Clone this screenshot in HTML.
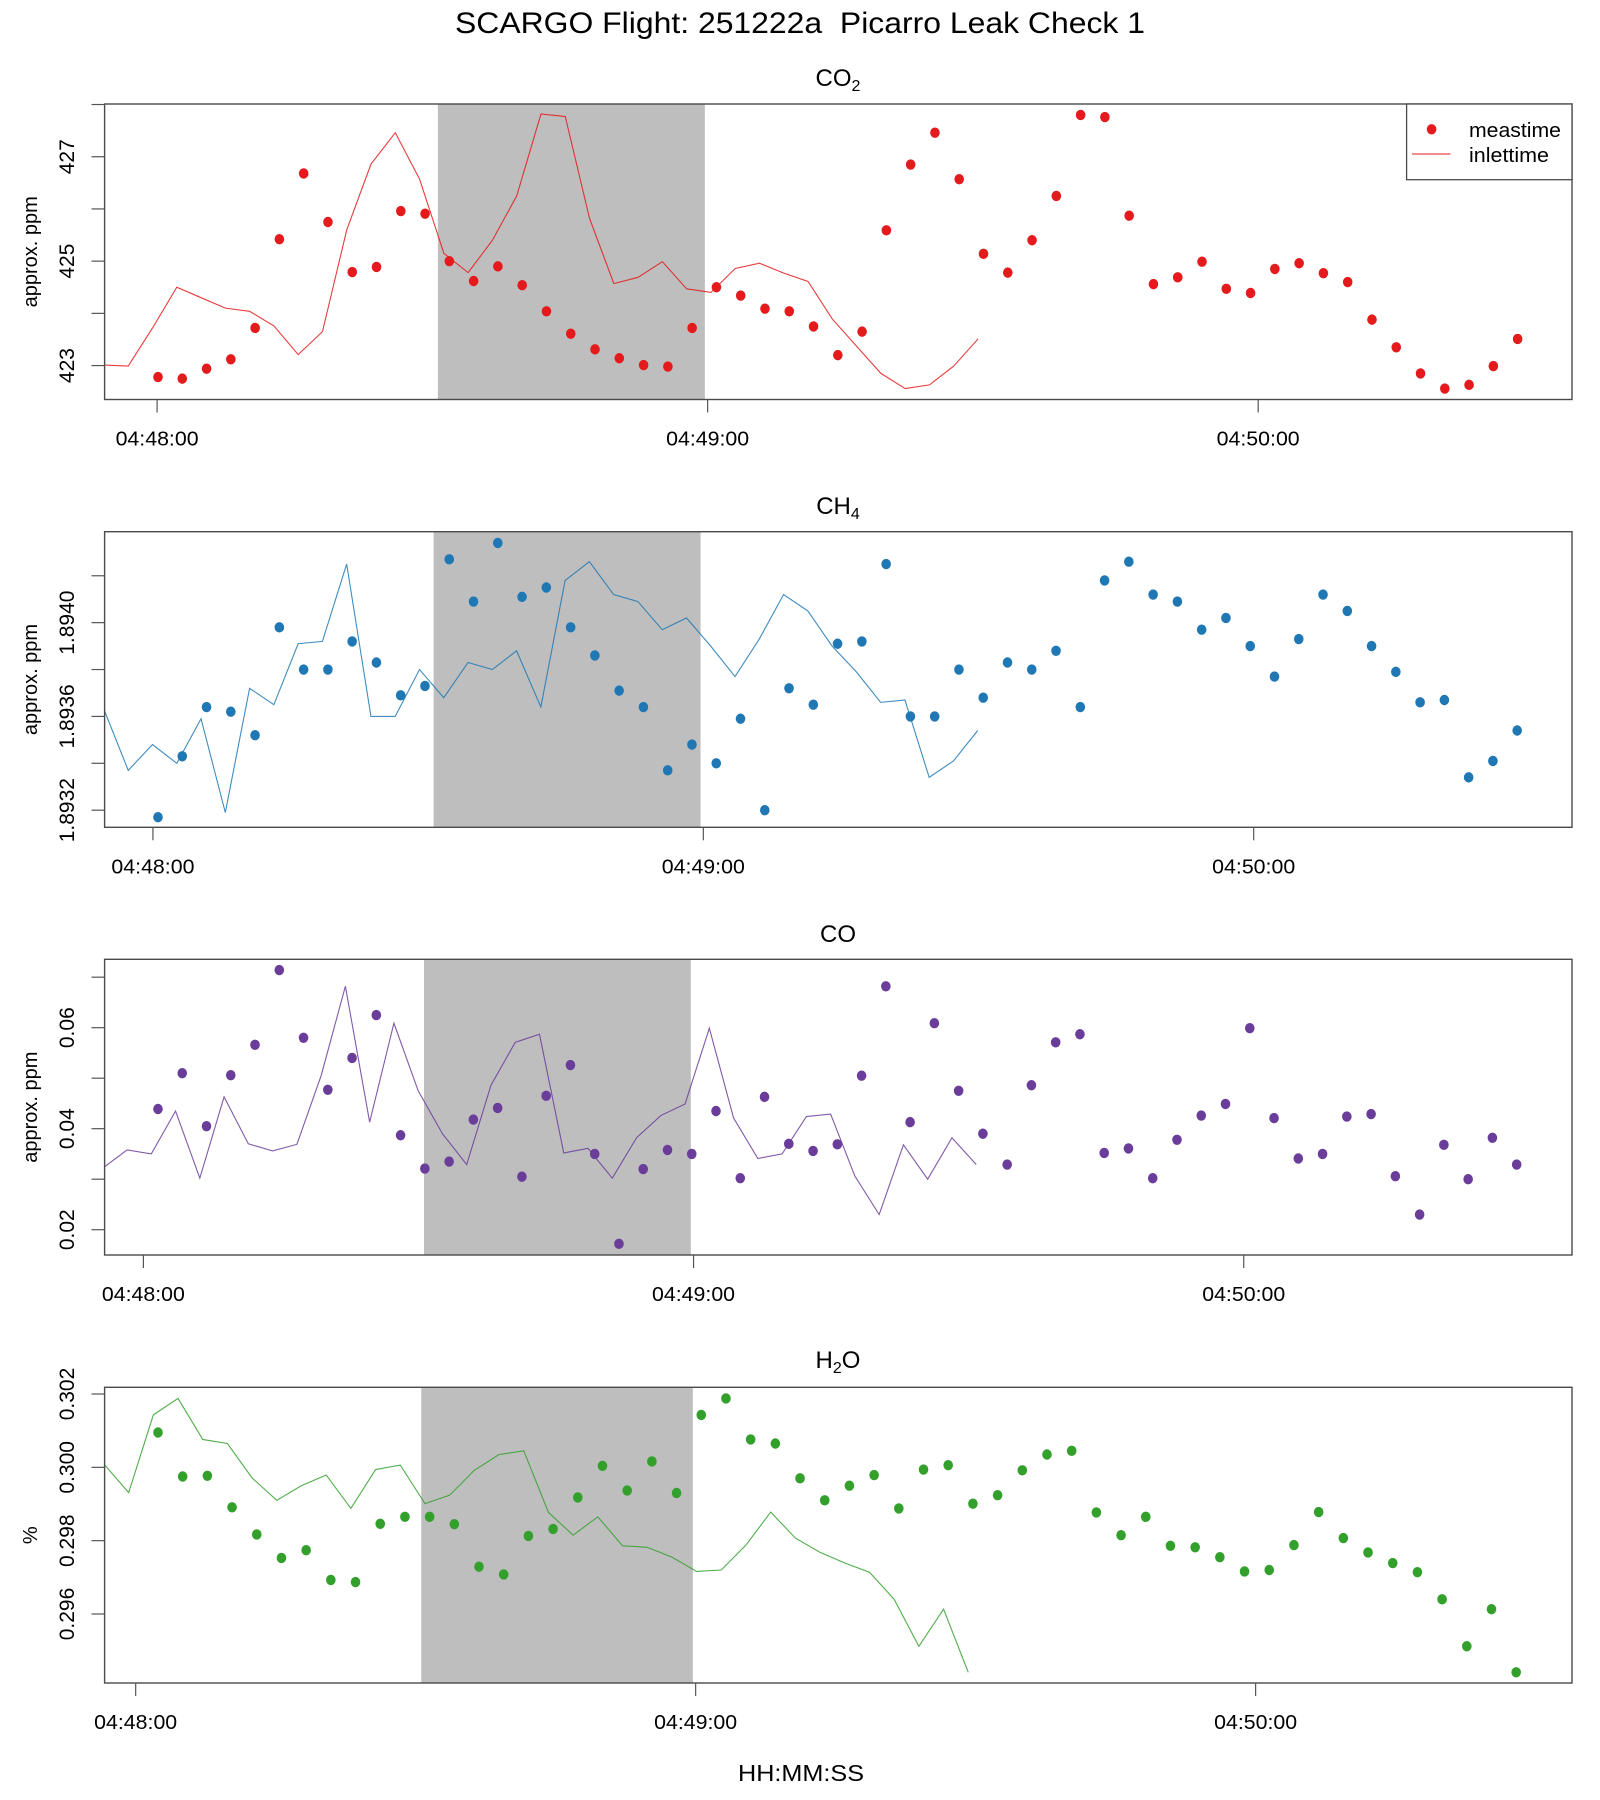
<!DOCTYPE html>
<html><head><meta charset="utf-8"><title>SCARGO Flight 251222a Picarro Leak Check 1</title>
<style>
html,body{margin:0;padding:0;background:#fff;}
svg{display:block;font-family:"Liberation Sans",Arial,sans-serif;}
</style></head>
<body>
<svg id="chart" width="1600" height="1800" viewBox="0 0 1600 1800" xmlns="http://www.w3.org/2000/svg">
<rect x="0" y="0" width="1600" height="1800" fill="#fff"/>
<text x="800" y="33" text-anchor="middle" font-size="30" textLength="690" lengthAdjust="spacingAndGlyphs" fill="#000" xml:space="preserve">SCARGO Flight: 251222a  Picarro Leak Check 1</text>
<text x="801" y="1781" text-anchor="middle" font-size="23" textLength="126" lengthAdjust="spacingAndGlyphs" fill="#000">HH:MM:SS</text>
</svg>
<script>
// ---- shared data ----
const sampleStep = 2.646;
const xTickTimes = [0, 60, 120];
const xTickLabels = ["04:48:00", "04:49:00", "04:50:00"];
const shadeStart = 30.6;
const shadeEnd = 59.7;

// ---- CO2 ----
const co2Meas = [422.78,422.75,422.94,423.12,423.72,425.42,426.68,425.75,424.79,424.89,425.96,425.91,425.00,424.62,424.90,424.54,424.04,423.61,423.31,423.14,423.01,422.98,423.72,424.50,424.34,424.09,424.04,423.75,423.20,423.65,425.59,426.85,427.46,426.57,425.14,424.78,425.40,426.25,427.80,427.76,425.87,424.56,424.69,424.99,424.47,424.39,424.85,424.96,424.77,424.60,423.88,423.35,422.85,422.56,422.63,422.99,423.51];
const co2Inlet = [423.01,422.99,423.72,424.50,424.30,424.10,424.04,423.76,423.21,423.65,425.60,426.86,427.46,426.57,425.15,424.78,425.40,426.25,427.82,427.77,425.82,424.57,424.69,424.99,424.47,424.40,424.86,424.96,424.77,424.61,423.89,423.37,422.85,422.56,422.63,422.99,423.51];
const co2YTicks = [423,424,425,426,427,428];
const co2YLabels = ["423","","425","","427",""];

// ---- CH4 ----
const ch4Meas = [1.89317,1.89343,1.89364,1.89362,1.89352,1.89398,1.89380,1.89380,1.89392,1.89383,1.89369,1.89373,1.89427,1.89409,1.89434,1.89411,1.89415,1.89398,1.89386,1.89371,1.89364,1.89337,1.89348,1.89340,1.89359,1.89320,1.89372,1.89365,1.89391,1.89392,1.89425,1.89360,1.89360,1.89380,1.89368,1.89383,1.89380,1.89388,1.89364,1.89418,1.89426,1.89412,1.89409,1.89397,1.89402,1.89390,1.89377,1.89393,1.89412,1.89405,1.89390,1.89379,1.89366,1.89367,1.89334,1.89341,1.89354];
const ch4Inlet = [1.89363,1.89337,1.89348,1.89340,1.89359,1.89319,1.89372,1.89365,1.89391,1.89392,1.89425,1.89360,1.89360,1.89380,1.89368,1.89383,1.89380,1.89388,1.89364,1.89418,1.89426,1.89412,1.89409,1.89397,1.89402,1.89390,1.89377,1.89393,1.89412,1.89405,1.89390,1.89379,1.89366,1.89367,1.89334,1.89341,1.89354];
const ch4YTicks = [1.8932,1.8934,1.8936,1.8938,1.8940,1.8942];
const ch4YLabels = ["1.8932","","1.8936","","1.8940",""];

// ---- CO ----
const coMeas = [0.0439,0.0510,0.0405,0.0506,0.0566,0.0714,0.0580,0.0477,0.0540,0.0625,0.0387,0.0321,0.0335,0.0418,0.0441,0.0305,0.0465,0.0526,0.0350,0.0172,0.0320,0.0358,0.0350,0.0435,0.0302,0.0463,0.0370,0.0356,0.0369,0.0505,0.0682,0.0413,0.0609,0.0475,0.0390,0.0329,0.0486,0.0571,0.0587,0.0352,0.0361,0.0302,0.0378,0.0426,0.0449,0.0599,0.0421,0.0341,0.0350,0.0424,0.0429,0.0306,0.0230,0.0368,0.0300,0.0382,0.0329];
const coInlet = [0.0322,0.0358,0.0350,0.0435,0.0302,0.0463,0.0370,0.0356,0.0369,0.0505,0.0682,0.0413,0.0609,0.0475,0.0390,0.0329,0.0486,0.0571,0.0587,0.0352,0.0361,0.0302,0.0382,0.0426,0.0449,0.0599,0.0421,0.0341,0.0350,0.0424,0.0429,0.0306,0.0230,0.0368,0.0300,0.0382,0.0329];
const coYTicks = [0.02,0.03,0.04,0.05,0.06,0.07];
const coYLabels = ["0.02","","0.04","","0.06",""];

// ---- H2O ----
const h2oMeas = [0.30095,0.29975,0.29977,0.29891,0.29817,0.29753,0.29774,0.29693,0.29687,0.29846,0.29865,0.29865,0.29845,0.29729,0.29708,0.29813,0.29832,0.29918,0.30004,0.29937,0.30016,0.29930,0.30143,0.30188,0.30076,0.30065,0.29970,0.29910,0.29950,0.29979,0.29888,0.29994,0.30006,0.29901,0.29924,0.29992,0.30035,0.30045,0.29877,0.29815,0.29865,0.29786,0.29782,0.29755,0.29716,0.29720,0.29788,0.29878,0.29807,0.29768,0.29739,0.29714,0.29640,0.29512,0.29613,0.29441];
const h2oInlet = [0.30009,0.29931,0.30143,0.30188,0.30076,0.30065,0.29971,0.29910,0.29950,0.29979,0.29888,0.29994,0.30006,0.29901,0.29924,0.29992,0.30035,0.30045,0.29877,0.29815,0.29865,0.29786,0.29782,0.29755,0.29716,0.29720,0.29788,0.29878,0.29807,0.29768,0.29739,0.29714,0.29640,0.29512,0.29613,0.29441];
const h2oYTicks = [0.296,0.298,0.300,0.302];
const h2oYLabels = ["0.296","0.298","0.300","0.302"];

const NS = "http://www.w3.org/2000/svg";
const svg = document.getElementById("chart");
const PL = 104.6, PR = 1572;

const panels = [
  {key:"co2", title:["CO","2"], ylab:"approx. ppm", meas:co2Meas, inlet:co2Inlet, yt:co2YTicks, yl:co2YLabels, color:"#E41A1C",
   top:104, bottom:399.5, yMin:422.35, yMax:428.01, tMin:-5.72, tMax:154.2, ptStart:0.10, lnStart:-5.79, titleY:86, legend:true},
  {key:"ch4", title:["CH","4"], ylab:"approx. ppm", meas:ch4Meas, inlet:ch4Inlet, yt:ch4YTicks, yl:ch4YLabels, color:"#1F78B4",
   top:531.7, bottom:827.3, yMin:1.893127, yMax:1.894388, tMin:-5.27, tMax:154.7, ptStart:0.55, lnStart:-5.34, titleY:514},
  {key:"co", title:["CO",""], ylab:"approx. ppm", meas:coMeas, inlet:coInlet, yt:coYTicks, yl:coYLabels, color:"#6A3D9A",
   top:959.3, bottom:1255, yMin:0.01499, yMax:0.07354, tMin:-4.23, tMax:155.8, ptStart:1.59, lnStart:-4.43, titleY:942},
  {key:"h2o", title:["H","2","O"], ylab:"%", meas:h2oMeas, inlet:h2oInlet, yt:h2oYTicks, yl:h2oYLabels, color:"#33A02C",
   top:1387.3, bottom:1683, yMin:0.294118, yMax:0.302183, tMin:-3.33, tMax:153.9, ptStart:2.39, lnStart:-3.40, titleY:1368}
];

function mk(tag, attrs, parent){
  const e = document.createElementNS(NS, tag);
  for (const k in attrs) e.setAttribute(k, attrs[k]);
  (parent||svg).appendChild(e);
  return e;
}

panels.forEach(function(p){
  const xs = function(t){ return PL + (t - p.tMin)/(p.tMax - p.tMin)*(PR-PL); };
  const ys = function(v){ return p.bottom - (v - p.yMin)/(p.yMax - p.yMin)*(p.bottom - p.top); };
  const g = mk("g", {});
  
  
  const clipId = "clip-" + p.key;
  const cp = mk("clipPath", {id: clipId}, g);
  mk("rect", {x:PL, y:p.top, width:PR-PL, height:p.bottom-p.top}, cp);

  const sh = mk("rect", {x:xs(shadeStart), y:p.top, width:xs(shadeEnd)-xs(shadeStart), height:p.bottom-p.top, fill:"#BEBEBE"}, g);
  
  

  let d = "";
  p.inlet.forEach(function(v,i){ d += (i? "L":"M") + xs(p.lnStart + i*sampleStep).toFixed(2) + "," + ys(v).toFixed(2); });
  const ln = mk("path", {d:d, fill:"none", stroke:p.color, "stroke-width":1.1, "stroke-opacity":0.85, "clip-path":"url(#"+clipId+")"}, g);
  
  

  const pg = mk("g", {fill:p.color}, g);
  
  
  p.meas.forEach(function(v,i){
    const c = mk("ellipse", {cx:xs(p.ptStart + i*sampleStep).toFixed(2), cy:ys(v).toFixed(2), rx:4.8, ry:5.2}, pg);
    
    
  });

  const fr = mk("rect", {x:PL, y:p.top, width:PR-PL, height:p.bottom-p.top, fill:"none", stroke:"#4a4a4a", "stroke-width":1.4}, g);
  
  

  p.yt.forEach(function(v,i){
    const y = ys(v);
    const tk = mk("line", {x1:91.5, x2:PL, y1:y, y2:y, stroke:"#555", "stroke-width":1.2}, g);
    
    
    if (p.yl[i]) {
      const t = mk("text", {x:0, y:0, "text-anchor":"middle", "font-size":21, fill:"#000", transform:"translate(74,"+y.toFixed(2)+") rotate(-90)"}, g);
      t.textContent = p.yl[i];
      
      
    }
  });
  const yt = mk("text", {x:0, y:0, "text-anchor":"middle", "font-size":20, fill:"#000", transform:"translate(37,"+((p.top+p.bottom)/2).toFixed(1)+") rotate(-90)"}, g);
  yt.textContent = p.ylab;
  
  

  xTickTimes.forEach(function(t,i){
    const x = xs(t);
    const tk = mk("line", {x1:x, x2:x, y1:p.bottom, y2:p.bottom+13, stroke:"#555", "stroke-width":1.2}, g);
    
    
    const lb = mk("text", {x:x, y:p.bottom+46, "text-anchor":"middle", "font-size":20, textLength:83, lengthAdjust:"spacingAndGlyphs", fill:"#000"}, g);
    lb.textContent = xTickLabels[i];
    
    
  });

  const tt = mk("text", {x:838, y:p.titleY, "text-anchor":"middle", "font-size":24, fill:"#000"}, g);
  
  
  const a = mk("tspan", {}, tt); a.textContent = p.title[0];
  if (p.title[1]) { const b = mk("tspan", {"font-size":16, dy:5}, tt); b.textContent = p.title[1]; }
  if (p.title[2]) { const c2 = mk("tspan", {dy:-5}, tt); c2.textContent = p.title[2]; }

  if (p.legend) {
    const lg = mk("g", {}, g);
    
    
    mk("rect", {x:1406.6, y:p.top, width:PR-1406.6, height:75.7, fill:"#fff", stroke:"#4a4a4a", "stroke-width":1.3}, lg);
    const e1 = mk("ellipse", {cx:1431.6, cy:129.3, rx:4.8, ry:5.2, fill:p.color}, lg);
    
    
    const t1 = mk("text", {x:1469, y:137, "font-size":20, textLength:92, lengthAdjust:"spacingAndGlyphs", fill:"#000"}, lg);
    t1.textContent = "meastime";
    
    
    const l2 = mk("line", {x1:1412, x2:1450.5, y1:154, y2:154, stroke:p.color, "stroke-width":1.1}, lg);
    
    
    const t2 = mk("text", {x:1469, y:162, "font-size":20, textLength:80, lengthAdjust:"spacingAndGlyphs", fill:"#000"}, lg);
    t2.textContent = "inlettime";
    
    
  }
});
</script>
</body></html>
